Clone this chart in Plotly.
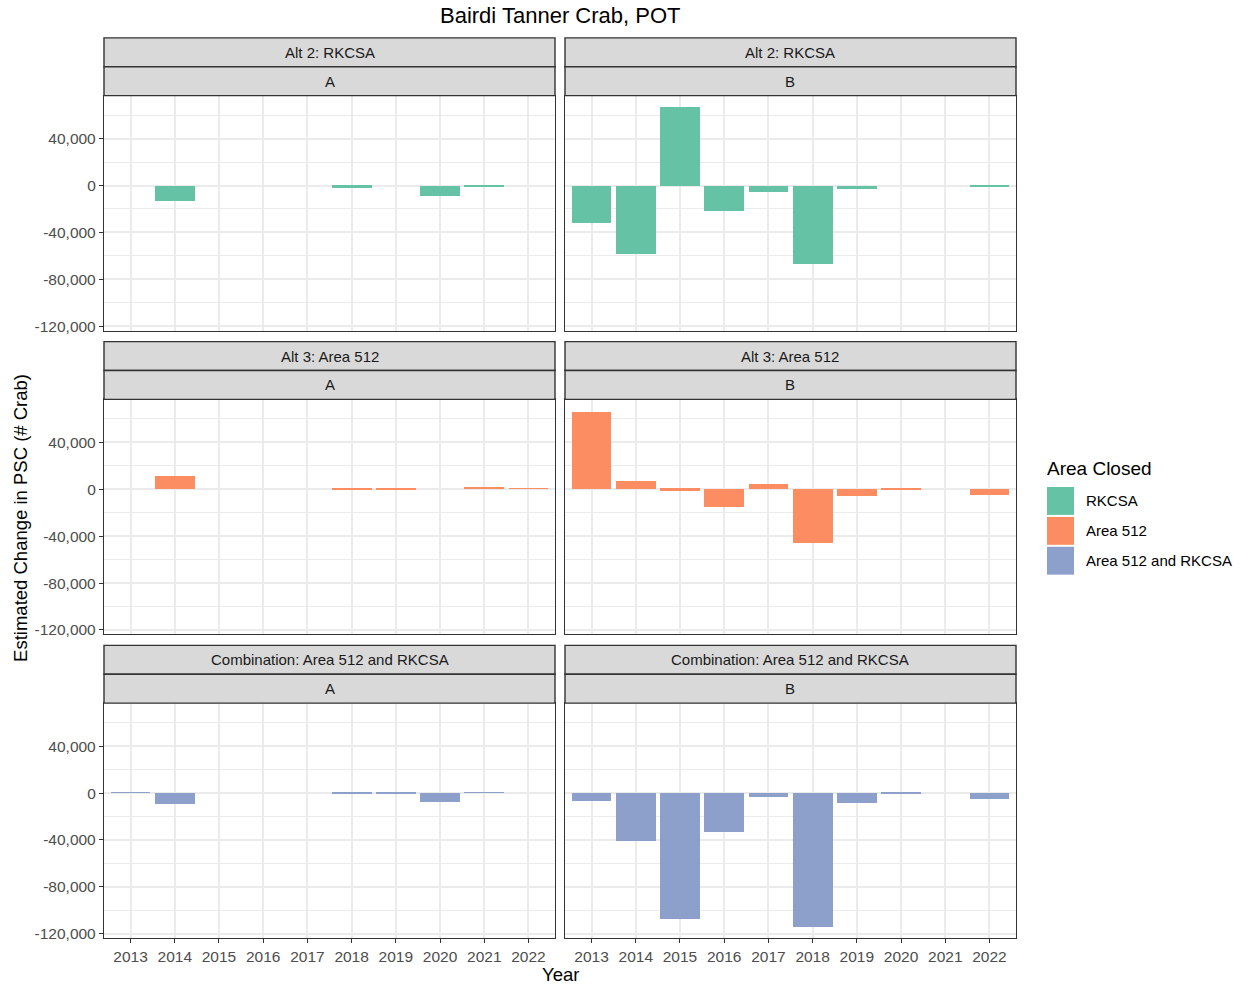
import plotly.graph_objects as go

# ---- data -------------------------------------------------------------
years = [2013, 2014, 2015, 2016, 2017, 2018, 2019, 2020, 2021, 2022]
year_labels = [str(y) for y in years]

alt2_A = [None, -13200, None, None, None, -1400, None, -8700, -700, None]
alt2_B = [-31500, -58300, 67600, -21400, -5600, -66200, -2500, None, None, -300]
alt3_A = [None, 10700, None, None, None, -200, -500, None, 2000, 400]
alt3_B = [65900, 6800, -1700, -15500, 4200, -46500, -6200, -500, None, -5400]
comb_A = [300, -9300, None, None, None, -1100, -600, -7600, 700, None]
comb_B = [-6500, -41100, -107900, -33000, -3100, -114700, -9000, -500, None, -5600]

row_labels = ["Alt 2: RKCSA", "Alt 3: Area 512", "Combination: Area 512 and RKCSA"]
col_labels = ["A", "B"]
area_names = ["RKCSA", "Area 512", "Area 512 and RKCSA"]
area_colors = ["#66C2A5", "#FC8D62", "#8DA0CB"]

y_tickvals = [-120000, -80000, -40000, 0, 40000]
y_ticktext = ["-120,000", "-80,000", "-40,000", "0", "40,000"]
y_minor = [-100000, -60000, -20000, 20000, 60000]

panels = [[alt2_A, alt2_B], [alt3_A, alt3_B], [comb_A, comb_B]]

# ---- layout geometry (pixels) -----------------------------------------
W, H = 1244, 989
col_px = [(104, 555), (565, 1016)]
row_top = [38, 343, 648]
strip_h = 29
panel_h = 236

def px(x):
    return x / W

def py(y):
    return 1 - y / H

# shared y range with 5% padding on the data extent
all_vals = [v for r in panels for p in r for v in p if v is not None]
lo, hi = min(all_vals), max(all_vals)
pad = 0.05 * (hi - lo)
y_range = [lo - pad, hi + pad]

FONT = "Liberation Sans, Arial, sans-serif"
GRID = "#EBEBEB"
BORDER = "#333333"

fig = go.Figure()
shapes = []
annotations = []

k = 0
for r in range(3):
    for c in range(2):
        k += 1
        xa = "x" if k == 1 else f"x{k}"
        ya = "y" if k == 1 else f"y{k}"
        fig.add_trace(go.Bar(
            x=years, y=panels[r][c], width=0.9,
            marker=dict(color=area_colors[r], line=dict(width=0)),
            name=area_names[r], showlegend=False,
            xaxis=xa, yaxis=ya,
        ))
        x0, x1 = col_px[c]
        top = row_top[r]
        p_top = top + 2 * strip_h
        p_bot = p_top + panel_h
        xkey = "xaxis" if k == 1 else f"xaxis{k}"
        ykey = "yaxis" if k == 1 else f"yaxis{k}"
        bottom_row = r == 2
        left_col = c == 0
        fig.layout[xkey] = dict(
            domain=[px(x0), px(x1)], anchor=ya,
            range=[2012.4, 2022.6],
            tickmode="array", tickvals=years, ticktext=year_labels,
            showticklabels=bottom_row,
            ticks="outside" if bottom_row else "", ticklen=4, tickwidth=1.2,
            tickcolor=BORDER,
            tickfont=dict(family=FONT, size=15.5, color="#4D4D4D"),
            showgrid=True, gridcolor=GRID, gridwidth=1.6,
            zeroline=False, showline=True, linecolor=BORDER, linewidth=1.3,
            mirror=True, fixedrange=True,
        )
        fig.layout[ykey] = dict(
            domain=[py(p_bot), py(p_top)], anchor=xa,
            range=y_range,
            tickmode="array", tickvals=y_tickvals, ticktext=y_ticktext,
            showticklabels=left_col,
            ticks="outside" if left_col else "", ticklen=4, tickwidth=1.2,
            tickcolor=BORDER,
            tickfont=dict(family=FONT, size=15.5, color="#4D4D4D"),
            showgrid=True, gridcolor=GRID, gridwidth=1.6,
            minor=dict(tickvals=y_minor, showgrid=True, gridcolor=GRID,
                       gridwidth=0.8, ticks=""),
            zeroline=False, showline=True, linecolor=BORDER, linewidth=1.3,
            mirror=True, fixedrange=True,
        )
        # facet strips: outer (alternative) and inner (option)
        for j, label in enumerate([row_labels[r], col_labels[c]]):
            s0 = top + j * strip_h
            s1 = s0 + strip_h
            shapes.append(dict(
                type="rect", xref="paper", yref="paper",
                x0=px(x0), x1=px(x1), y0=py(s1), y1=py(s0),
                fillcolor="#D9D9D9", line=dict(color=BORDER, width=1.4),
                layer="above",
            ))
            annotations.append(dict(
                text=label, xref="paper", yref="paper",
                x=px((x0 + x1) / 2), y=py((s0 + s1) / 2),
                xanchor="center", yanchor="middle", showarrow=False,
                font=dict(family=FONT, size=15, color="#1A1A1A"),
            ))

# ---- titles -----------------------------------------------------------
annotations.append(dict(
    text="Bairdi Tanner Crab, POT", xref="paper", yref="paper",
    x=px(560), y=py(16), xanchor="center", yanchor="middle", showarrow=False,
    font=dict(family=FONT, size=22, color="#000000"),
))
annotations.append(dict(
    text="Year", xref="paper", yref="paper",
    x=px(560), y=py(978), xanchor="center", yanchor="middle", showarrow=False,
    font=dict(family=FONT, size=18.5, color="#000000"),
))
annotations.append(dict(
    text="Estimated Change in PSC (# Crab)", xref="paper", yref="paper",
    x=px(21), y=py(520), xanchor="center", yanchor="middle", showarrow=False,
    textangle=-90,
    font=dict(family=FONT, size=18.5, color="#000000"),
))

# ---- legend -----------------------------------------------------------
annotations.append(dict(
    text="Area Closed", xref="paper", yref="paper",
    x=px(1045), y=py(470), xanchor="left", yanchor="middle", showarrow=False,
    font=dict(family=FONT, size=19, color="#000000"),
))
for i, (name, col) in enumerate(zip(area_names, area_colors)):
    k0 = 489 + i * 30
    shapes.append(dict(
        type="rect", xref="paper", yref="paper",
        x0=px(1047), x1=px(1074), y0=py(k0 + 28), y1=py(k0),
        fillcolor=col, line=dict(width=0),
    ))
    annotations.append(dict(
        text=name, xref="paper", yref="paper",
        x=px(1084), y=py(k0 + 14), xanchor="left", yanchor="middle",
        showarrow=False,
        font=dict(family=FONT, size=15, color="#000000"),
    ))

fig.update_layout(
    width=W, height=H,
    margin=dict(l=0, r=0, t=0, b=0),
    paper_bgcolor="white", plot_bgcolor="white",
    shapes=shapes, annotations=annotations,
    showlegend=False, bargap=0,
)

fig.write_html("out.html")
